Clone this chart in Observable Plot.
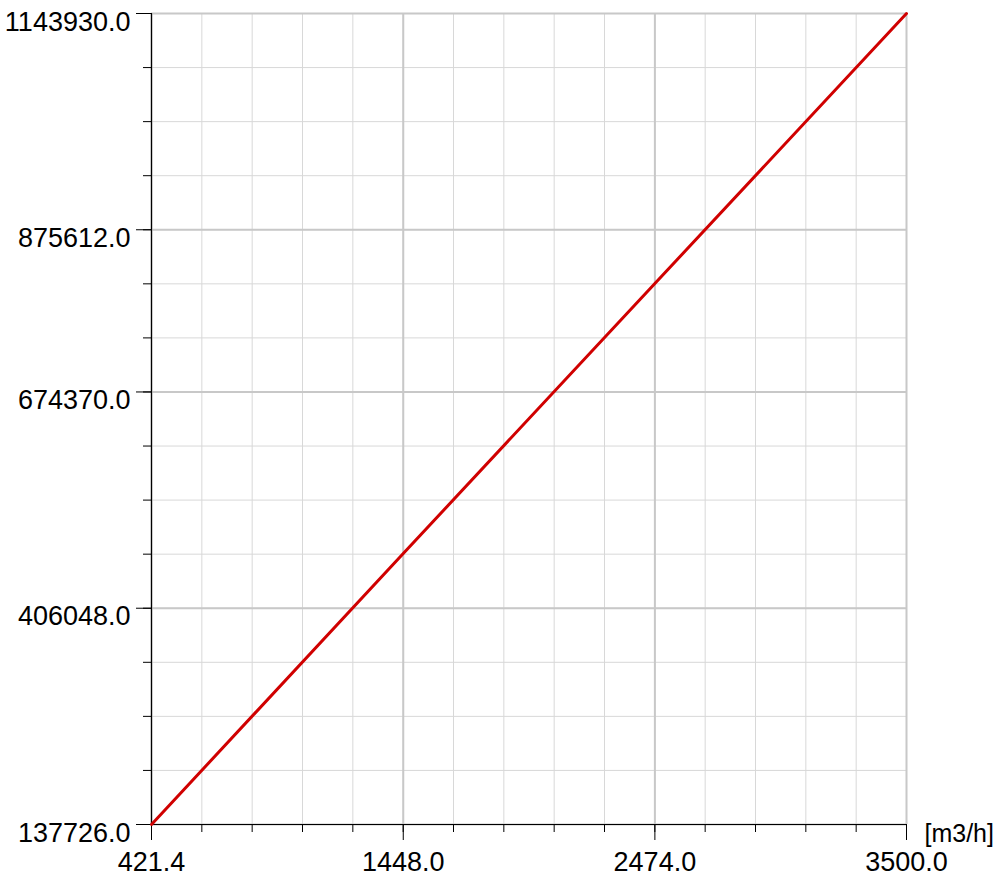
<!DOCTYPE html>
<html>
<head>
<meta charset="utf-8">
<script src="https://cdn.jsdelivr.net/npm/d3@7"></script>
<script src="https://cdn.jsdelivr.net/npm/@observablehq/plot@0.6"></script>
<style>
  html, body { margin: 0; padding: 0; background: #fff; }
  #chart svg { display: block; }
</style>
</head>
<body>
<div id="chart"></div>
<script>
// Data
const flowX = [421.4, 1448.0, 2474.0, 3500.0];
const valueY = [137726, 473900, 808900, 1143930];
const xTickLabels = [421.4, 1448.0, 2474.0, 3500.0];
const yTickLabels = [137726.0, 406048.0, 674370.0, 875612.0, 1143930.0];
const xUnit = "[m3/h]";

const xDomain = [421.4, 3500.0];
const yDomain = [137726.0, 1143930.0];
const nDiv = 15;
const xMinor = d3.range(nDiv + 1).map(i => xDomain[0] + (xDomain[1] - xDomain[0]) * i / nDiv);
const yMinor = d3.range(nDiv + 1).map(i => yDomain[0] + (yDomain[1] - yDomain[0]) * i / nDiv);

const line = flowX.map((x, i) => ({x, y: valueY[i]}));

const chart = Plot.plot({
  width: 996,
  height: 877,
  marginLeft: 151,
  marginRight: 90,
  marginTop: 13,
  marginBottom: 53,
  style: {fontFamily: "'Liberation Sans', Arial, sans-serif", fontSize: "27px", color: "#000", background: "#fff"},
  x: {domain: xDomain, axis: null},
  y: {domain: yDomain, axis: null},
  marks: [
    Plot.gridX(xMinor, {stroke: "#d8d8d8", strokeOpacity: 1, strokeWidth: 1}),
    Plot.gridY(yMinor, {stroke: "#d8d8d8", strokeOpacity: 1, strokeWidth: 1}),
    Plot.gridX(xTickLabels, {stroke: "#c8c8c8", strokeOpacity: 1, strokeWidth: 2}),
    Plot.gridY(yTickLabels, {stroke: "#c8c8c8", strokeOpacity: 1, strokeWidth: 2}),
    Plot.axisY(yMinor, {tickSize: 8, tickFormat: () => "", stroke: "#000", label: null}),
    Plot.axisY(yTickLabels, {tickSize: 15, tickFormat: () => "", stroke: "#000", label: null}),
    Plot.axisX(xMinor, {tickSize: 8, tickFormat: () => "", stroke: "#000", label: null}),
    Plot.axisX(xTickLabels, {tickSize: 16, tickFormat: () => "", stroke: "#000", label: null}),
    Plot.ruleX([xDomain[0]], {stroke: "#000", strokeWidth: 1.2}),
    Plot.ruleY([yDomain[0]], {stroke: "#000", strokeWidth: 1.2}),
    Plot.line(line, {x: "x", y: "y", stroke: "#d00000", strokeWidth: 3}),
    Plot.text(yTickLabels, {x: xDomain[0], y: d => d, text: d => d.toFixed(1), textAnchor: "end", lineAnchor: "top", dx: -21, dy: -2, fill: "#000", fontSize: 27}),
    Plot.text(xTickLabels, {x: d => d, y: yDomain[0], text: d => d.toFixed(1), textAnchor: "middle", lineAnchor: "top", dy: 27, fill: "#000", fontSize: 27}),
    Plot.text([xUnit], {x: xDomain[1], y: yDomain[0], text: d => d, textAnchor: "start", lineAnchor: "middle", dx: 18, dy: 9, fill: "#000", fontSize: 25})
  ]
});
document.getElementById("chart").appendChild(chart);
</script>
</body>
</html>
